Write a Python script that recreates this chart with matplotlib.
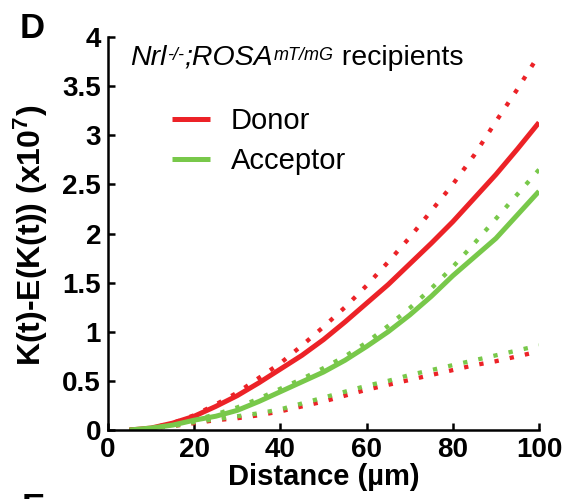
import matplotlib
matplotlib.use("Agg")
import matplotlib.pyplot as plt

plt.rcParams['font.family'] = ['Liberation Sans', 'DejaVu Sans']
plt.rcParams['mathtext.fontset'] = 'custom'
plt.rcParams['mathtext.rm'] = 'Liberation Sans'
plt.rcParams['mathtext.it'] = 'Liberation Sans:italic'
plt.rcParams['mathtext.bf'] = 'Liberation Sans:bold'

# ---- data (K(t)-E(K(t)), x10^7) ----
distance = [5, 10, 15, 20, 25, 30, 35, 40, 45, 50, 55, 60, 65, 70, 75, 80, 85, 90, 95, 100]
donor = [0.0, 0.02, 0.07, 0.14, 0.24, 0.35, 0.48, 0.62, 0.76, 0.92, 1.10, 1.29, 1.48, 1.69,
         1.90, 2.12, 2.36, 2.60, 2.86, 3.13]
donor_upper = [0.0, 0.02, 0.07, 0.15, 0.26, 0.38, 0.53, 0.68, 0.86, 1.05, 1.25, 1.47, 1.71,
               1.96, 2.23, 2.50, 2.80, 3.14, 3.47, 3.82]
donor_lower = [0.0, 0.02, 0.04, 0.07, 0.10, 0.12, 0.15, 0.19, 0.24, 0.29, 0.35, 0.41, 0.46,
               0.51, 0.56, 0.61, 0.66, 0.70, 0.75, 0.80]
acceptor = [0.0, 0.02, 0.05, 0.10, 0.14, 0.20, 0.29, 0.39, 0.49, 0.59, 0.71, 0.85, 1.00,
            1.17, 1.36, 1.57, 1.76, 1.95, 2.19, 2.43]
acceptor_upper = [0.0, 0.02, 0.05, 0.10, 0.16, 0.23, 0.32, 0.42, 0.52, 0.63, 0.75, 0.89,
                  1.06, 1.24, 1.44, 1.66, 1.90, 2.15, 2.40, 2.65]
acceptor_lower = [0.0, 0.02, 0.04, 0.08, 0.11, 0.14, 0.17, 0.21, 0.27, 0.33, 0.39, 0.45,
                  0.50, 0.56, 0.61, 0.66, 0.71, 0.76, 0.81, 0.86]

x_ticks = [0, 20, 40, 60, 80, 100]
y_ticks = [0, 0.5, 1, 1.5, 2, 2.5, 3, 3.5, 4]
y_tick_labels = ['0', '0.5', '1', '1.5', '2', '2.5', '3', '3.5', '4']

RED = '#ec2227'
GREEN = '#78c84a'

fig = plt.figure(figsize=(5.69, 4.99), dpi=100)
ax = fig.add_axes([108/569, 1 - 430/499, (539-108)/569, (430-37)/499])

dot = (0, (1, 2.6))
ax.plot(distance, donor_upper, color=RED, lw=3.1, ls=dot, dash_capstyle='butt')
ax.plot(distance, acceptor_upper, color=GREEN, lw=3.1, ls=dot, dash_capstyle='butt')
ax.plot(distance, donor_lower, color=RED, lw=3.1, ls=dot, dash_capstyle='butt')
ax.plot(distance, acceptor_lower, color=GREEN, lw=3.1, ls=dot, dash_capstyle='butt')
ax.plot(distance, donor, color=RED, lw=3.6, label='Donor', solid_capstyle='butt')
ax.plot(distance, acceptor, color=GREEN, lw=3.6, label='Acceptor', solid_capstyle='butt')

ax.set_xlim(0, 100)
ax.set_ylim(0, 4)
ax.set_xticks(x_ticks)
ax.set_xticklabels([str(v) for v in x_ticks])
ax.set_yticks(y_ticks)
ax.set_yticklabels(y_tick_labels)
for s in ['top', 'right']:
    ax.spines[s].set_visible(False)
for s in ['left', 'bottom']:
    ax.spines[s].set_linewidth(1.8)
ax.tick_params(direction='in', length=5, width=1.8, labelsize=20)
ax.tick_params(axis='x', pad=5)
ax.tick_params(axis='y', pad=5)
for lbl in ax.get_xticklabels() + ax.get_yticklabels():
    lbl.set_fontweight('bold')

ax.set_xlabel('Distance (µm)', fontsize=21, fontweight='bold', labelpad=0)
ax.set_ylabel(r'K(t)-E(K(t)) (x10$^{\mathbf{7}}$)', fontsize=23, fontweight='bold')
ax.yaxis.set_label_coords(-0.135, 0.495)

# title built from pieces (italic gene names with small superscripts)
fs_big, fs_sup = 20.5, 13
t1 = ax.text(0.051, 0.929, 'Nrl', transform=ax.transAxes, fontsize=fs_big,
             style='italic', va='baseline', ha='left')
t2 = ax.annotate('-/-', xy=(1, 1), xycoords=t1, xytext=(0.5, -1.5),
                 textcoords='offset points', fontsize=fs_sup, style='italic',
                 va='top', ha='left')
t3 = ax.annotate(';ROSA', xy=(1, 0), xycoords=(t2, t1), xytext=(0.3, 0),
                 textcoords='offset points', fontsize=fs_big, style='italic',
                 va='bottom', ha='left')
t4 = ax.annotate('mT/mG', xy=(1, 1), xycoords=t3, xytext=(0.5, -1.5),
                 textcoords='offset points', fontsize=fs_sup, style='italic',
                 va='top', ha='left')
t5 = ax.annotate(' recipients', xy=(1, 0), xycoords=(t4, t3), xytext=(0, 0),
                 textcoords='offset points', fontsize=fs_big,
                 va='bottom', ha='left')

ax.legend(loc='upper left', bbox_to_anchor=(0.148, 0.822), frameon=False, fontsize=21,
          handlelength=1.3, handletextpad=0.72, labelspacing=0.42, borderpad=0,
          borderaxespad=0)

fig.text(20/569, 1 - 12/499, 'D', fontsize=25, fontweight='bold', va='top', ha='left')
fig.text(22/569, 1 - 492/499, 'E', fontsize=25, fontweight='bold', va='top', ha='left')

fig.savefig('out.png', dpi=100)
